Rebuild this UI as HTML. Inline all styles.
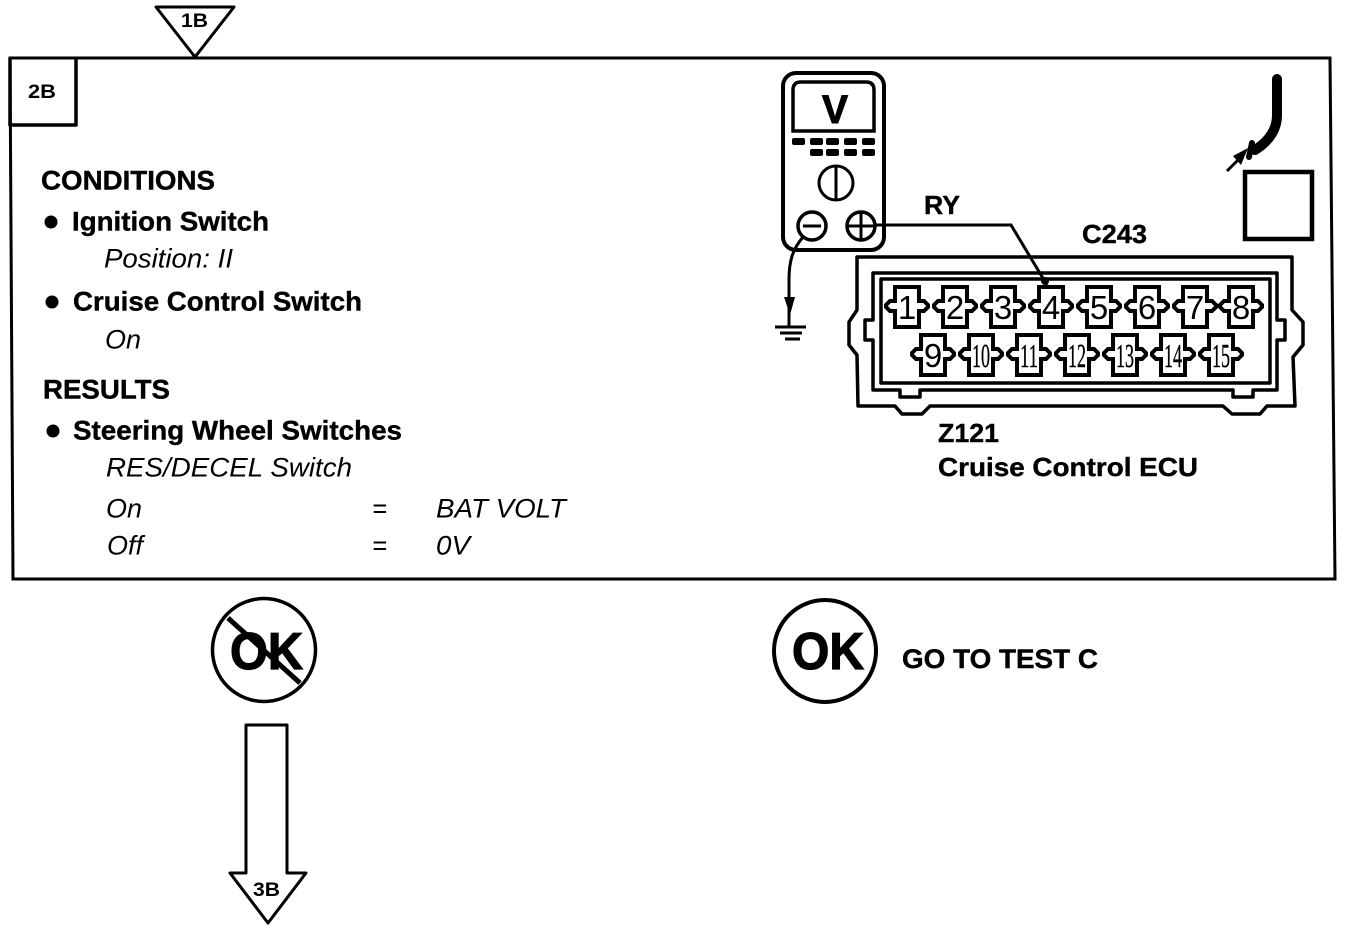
<!DOCTYPE html>
<html><head><meta charset="utf-8"><style>
html,body{margin:0;padding:0;background:#fff;width:1360px;height:932px;overflow:hidden}
svg{display:block}
text{font-family:"Liberation Sans",sans-serif;fill:#000}
.b{font-weight:bold;font-size:27px;stroke:#000;stroke-width:.4px}
.i{font-style:italic;font-size:27px}
.s{font-weight:bold;font-size:19px}
.n{font-size:33px;text-anchor:middle}
.m{font-family:"Liberation Serif",serif;font-size:34px;stroke:#000;stroke-width:.4px}
.l{fill:none;stroke:#000;stroke-width:3.5;stroke-linejoin:round}
</style></head><body>
<svg width="1360" height="932" viewBox="0 0 1360 932" xmlns="http://www.w3.org/2000/svg">
<defs>
<path id="p" fill="none" stroke="#000" stroke-width="4" stroke-linejoin="miter" d="M-12,-20H12V-6H17L21,-2V0L17,4H12V20H-12V4H-17L-21,0V-2L-17,-6H-12Z"/>
</defs>
<polygon points="10,58 1330,58 1335,579 13,579" fill="none" stroke="#000" stroke-width="3"/>
<polyline points="10,58 10,125 76,125 76,58" class="l" stroke-width="3"/>
<polygon points="156,7 234,7 195,57" fill="#fff" stroke="#000" stroke-width="3" stroke-linejoin="round"/>
<text class="s" x="181" y="27" textLength="27" lengthAdjust="spacingAndGlyphs">1B</text>
<text class="s" x="28" y="98" textLength="28" lengthAdjust="spacingAndGlyphs">2B</text>

<g transform="translate(0,-0.7)">
<text class="b" x="41" y="190" textLength="174" lengthAdjust="spacingAndGlyphs">CONDITIONS</text>
<text class="b" x="72" y="231" textLength="197" lengthAdjust="spacingAndGlyphs">Ignition Switch</text>
<text class="i" x="104" y="268" textLength="129" lengthAdjust="spacingAndGlyphs">Position: II</text>
<text class="b" x="73" y="311" textLength="289" lengthAdjust="spacingAndGlyphs">Cruise Control Switch</text>
<text class="i" x="105" y="349" textLength="36" lengthAdjust="spacingAndGlyphs">On</text>
<text class="b" x="43" y="399" textLength="127" lengthAdjust="spacingAndGlyphs">RESULTS</text>
<text class="b" x="73" y="440" textLength="329" lengthAdjust="spacingAndGlyphs">Steering Wheel Switches</text>
<text class="i" x="106" y="477" textLength="246" lengthAdjust="spacingAndGlyphs">RES/DECEL Switch</text>
<text class="i" x="106" y="518" textLength="36" lengthAdjust="spacingAndGlyphs">On</text>
<text class="i" x="372" y="518" textLength="15" lengthAdjust="spacingAndGlyphs">=</text>
<text class="i" x="436" y="518" textLength="130" lengthAdjust="spacingAndGlyphs">BAT VOLT</text>
<text class="i" x="107" y="555" textLength="36" lengthAdjust="spacingAndGlyphs">Off</text>
<text class="i" x="372" y="555" textLength="15" lengthAdjust="spacingAndGlyphs">=</text>
<text class="i" x="436" y="555" textLength="34" lengthAdjust="spacingAndGlyphs">0V</text>
</g>
<circle cx="51" cy="222" r="6.5"/>
<circle cx="52" cy="302" r="6.5"/>
<circle cx="53" cy="431" r="6.5"/>

<!-- meter -->
<rect x="783" y="73" width="101" height="177" rx="13" fill="none" stroke="#000" stroke-width="4"/>
<path d="M793,131V90Q793,82 801,82H866Q874,82 874,90V131Z" fill="none" stroke="#000" stroke-width="3.5"/>
<text x="835" y="123" text-anchor="middle" font-weight="bold" font-size="40" textLength="26" lengthAdjust="spacingAndGlyphs" stroke="#000" stroke-width="1">V</text>
<g>
<rect x="792" y="138" width="13" height="7" rx="2"/><rect x="810" y="138" width="13" height="7" rx="2"/><rect x="826" y="138" width="13" height="7" rx="2"/><rect x="844" y="138" width="13" height="7" rx="2"/><rect x="862" y="138" width="13" height="7" rx="2"/>
<rect x="810" y="149" width="13" height="7" rx="2"/><rect x="826" y="149" width="13" height="7" rx="2"/><rect x="844" y="149" width="13" height="7" rx="2"/><rect x="862" y="149" width="13" height="7" rx="2"/>
</g>
<circle cx="836" cy="183" r="17" fill="none" stroke="#000" stroke-width="3"/>
<line x1="836" y1="166" x2="836" y2="200" stroke="#000" stroke-width="3"/>
<circle cx="812" cy="226" r="14" fill="#fff" stroke="#000" stroke-width="3.5"/>
<line x1="803" y1="226" x2="821" y2="226" stroke="#000" stroke-width="3"/>
<circle cx="861" cy="226" r="14" fill="#fff" stroke="#000" stroke-width="3.5"/>
<line x1="847" y1="226" x2="875" y2="226" stroke="#000" stroke-width="3"/>
<line x1="861" y1="212" x2="861" y2="240" stroke="#000" stroke-width="3"/>
<path d="M803,237C792,250 789,262 789,280V327" fill="none" stroke="#000" stroke-width="3"/>
<polygon points="784,297 795,297 790,315"/>
<line x1="775" y1="327" x2="806" y2="327" stroke="#000" stroke-width="3"/>
<line x1="780" y1="333" x2="802" y2="333" stroke="#000" stroke-width="3"/>
<line x1="785" y1="339" x2="800" y2="339" stroke="#000" stroke-width="3"/>
<polyline points="875,225 1011,225 1047,285" fill="none" stroke="#000" stroke-width="3"/>
<circle cx="1045" cy="281" r="4"/>
<text class="b" x="924" y="214" textLength="36" lengthAdjust="spacingAndGlyphs" style="font-size:26px">RY</text>
<text class="b" x="1082" y="243" textLength="65" lengthAdjust="spacingAndGlyphs" style="font-size:26px">C243</text>

<!-- connector -->
<path class="l" stroke-width="3" d="M857,257H1292V310L1303,322V345L1293,357L1295,406H1267L1260,414H1232L1223,406H930L922,414H902L895,406H858L857,355L849,345V322L857,310Z"/>
<path class="l" d="M873,273H1277V320H1285V340H1277V390H1253V397H1233V390H920V397H900V390H873V340H865V320H873Z"/>
<rect x="881" y="279" width="389" height="104" class="l"/>
<use href="#p" x="907" y="307"/><use href="#p" x="955" y="307"/><use href="#p" x="1003" y="307"/><use href="#p" x="1051" y="307"/>
<use href="#p" x="1099" y="307"/><use href="#p" x="1147" y="307"/><use href="#p" x="1195" y="307"/><use href="#p" x="1241" y="307"/>
<use href="#p" x="933" y="355"/><use href="#p" x="981" y="355"/><use href="#p" x="1029" y="355"/><use href="#p" x="1077" y="355"/>
<use href="#p" x="1125" y="355"/><use href="#p" x="1173" y="355"/><use href="#p" x="1221" y="355"/>
<g>
<text class="n" x="907" y="319">1</text><text class="n" x="955" y="319">2</text><text class="n" x="1003" y="319">3</text><text class="n" x="1051" y="319">4</text>
<text class="n" x="1099" y="319">5</text><text class="n" x="1147" y="319">6</text><text class="n" x="1195" y="319">7</text><text class="n" x="1241" y="319">8</text>
<text class="n" x="933" y="367">9</text>
<text class="m" x="972" y="367" textLength="18" lengthAdjust="spacingAndGlyphs">10</text>
<text class="m" x="1020" y="367" textLength="18" lengthAdjust="spacingAndGlyphs">11</text>
<text class="m" x="1068" y="367" textLength="18" lengthAdjust="spacingAndGlyphs">12</text>
<text class="m" x="1116" y="367" textLength="18" lengthAdjust="spacingAndGlyphs">13</text>
<text class="m" x="1164" y="367" textLength="18" lengthAdjust="spacingAndGlyphs">14</text>
<text class="m" x="1212" y="367" textLength="18" lengthAdjust="spacingAndGlyphs">15</text>
</g>
<text class="b" x="938" y="442" textLength="61" lengthAdjust="spacingAndGlyphs" style="font-size:26px">Z121</text>
<text class="b" x="938" y="476" textLength="260" lengthAdjust="spacingAndGlyphs" style="font-size:26px">Cruise Control ECU</text>

<!-- probe -->
<path d="M1277,79V115Q1277,136 1255,150" fill="none" stroke="#000" stroke-width="10" stroke-linecap="round"/>
<line x1="1252" y1="143" x2="1249" y2="157" stroke="#000" stroke-width="6" stroke-linecap="round"/>
<line x1="1227" y1="171" x2="1240" y2="158" stroke="#000" stroke-width="3"/>
<polygon points="1233,156 1248,148 1241,165"/>
<rect x="1245" y="172" width="67" height="67" fill="none" stroke="#000" stroke-width="4.5"/>

<!-- OK circles -->
<circle cx="264" cy="650" r="51.5" fill="none" stroke="#000" stroke-width="3.5"/>
<text x="230" y="669" font-weight="bold" font-size="52" textLength="73" lengthAdjust="spacingAndGlyphs" stroke="#000" stroke-width="1.2">OK</text>
<line x1="228" y1="618" x2="300" y2="683" stroke="#000" stroke-width="5"/>
<circle cx="825" cy="651" r="51" fill="none" stroke="#000" stroke-width="4"/>
<text x="792" y="669" font-weight="bold" font-size="52" textLength="72" lengthAdjust="spacingAndGlyphs" stroke="#000" stroke-width="1.2">OK</text>
<text class="b" x="902" y="668" textLength="196" lengthAdjust="spacingAndGlyphs">GO TO TEST C</text>

<!-- arrow -->
<polygon points="246,725 287,725 287,873 306,873 268,923 230,873 246,873" fill="#fff" stroke="#000" stroke-width="3" stroke-linejoin="round"/>
<text class="s" x="253" y="896" textLength="27" lengthAdjust="spacingAndGlyphs">3B</text>
</svg>
</body></html>
